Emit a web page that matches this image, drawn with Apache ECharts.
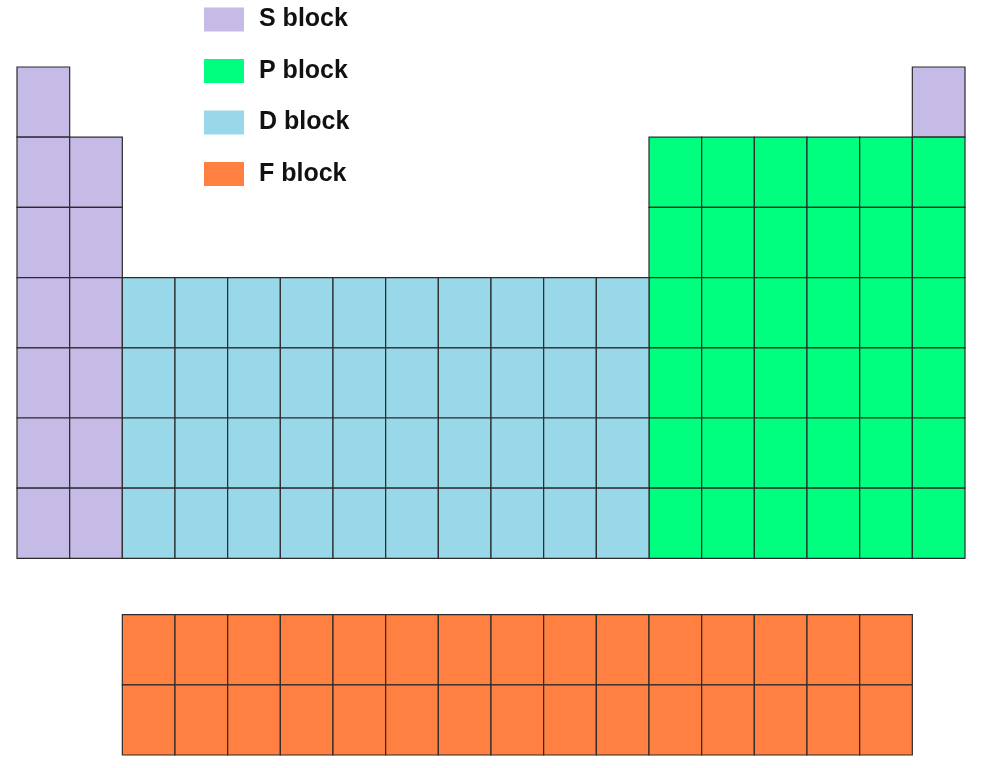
<!DOCTYPE html>
<html>
<head>
<meta charset="utf-8">
<script src="https://cdn.jsdelivr.net/npm/echarts@6/dist/echarts.min.js"></script>
<style>html,body{margin:0;padding:0;background:#fff}#c{width:1000px;height:768px}</style>
</head>
<body>
<div id="c"></div>
<script>
// Layout: one string per period, one char per group (s/p/d/. = empty)
var mainRows = [
  's................s',
  'ss..........pppppp',
  'ss..........pppppp',
  'ssddddddddddpppppp',
  'ssddddddddddpppppp',
  'ssddddddddddpppppp',
  'ssddddddddddpppppp'
];
// F block rows (detached), same column grid
var fRows = [
  '..fffffffffffffff',
  '..fffffffffffffff'
];
var fRowStart = [7.8, 8.8];
var blockKeys = ['s', 'p', 'd', 'f'];
var blockNames = ['S block', 'P block', 'D block', 'F block'];
var blockColors = ['#c6bae6', '#00ff7f', '#99d8e8', '#ff8040'];

var cells = {s: [], p: [], d: [], f: []};
mainRows.forEach(function (row, r) {
  for (var c = 0; c < row.length; c++) {
    var k = row.charAt(c);
    if (cells[k]) cells[k].push([c, r]);
  }
});
fRows.forEach(function (row, r) {
  for (var c = 0; c < row.length; c++) {
    var k = row.charAt(c);
    if (cells[k]) cells[k].push([c, fRowStart[r]]);
  }
});

function renderItem(params, api) {
  var x = api.value(0), y = api.value(1);
  var p0 = api.coord([x, y]);
  var p1 = api.coord([x + 1, y + 1]);
  return {
    type: 'rect',
    shape: {x: p0[0], y: p0[1], width: p1[0] - p0[0], height: p1[1] - p0[1]},
    style: {fill: api.visual('color'), stroke: '#2b2b2b', lineWidth: 1.2}
  };
}

var series = blockKeys.map(function (k, i) {
  return {
    type: 'custom',
    name: blockNames[i],
    renderItem: renderItem,
    itemStyle: {color: blockColors[i]},
    encode: {x: 0, y: 1},
    data: cells[k]
  };
});

var chart = echarts.init(document.getElementById('c'));
chart.setOption({
  animation: false,
  backgroundColor: '#fff',
  legend: {
    orient: 'vertical',
    left: 199,
    top: 2,
    icon: 'rect',
    itemWidth: 40,
    itemHeight: 24,
    itemGap: 26.5,
    data: blockNames,
    textStyle: {fontFamily: 'Liberation Sans, Arial, sans-serif', fontSize: 25, fontWeight: 'bold', color: '#111', padding: [0, 0, 0, 10]}
  },
  grid: {left: 17, right: 35, top: 67, bottom: 13},
  xAxis: {type: 'value', min: 0, max: 18, show: false},
  yAxis: {type: 'value', min: 0, max: 9.8, inverse: true, show: false},
  series: series
});
</script>
</body>
</html>
